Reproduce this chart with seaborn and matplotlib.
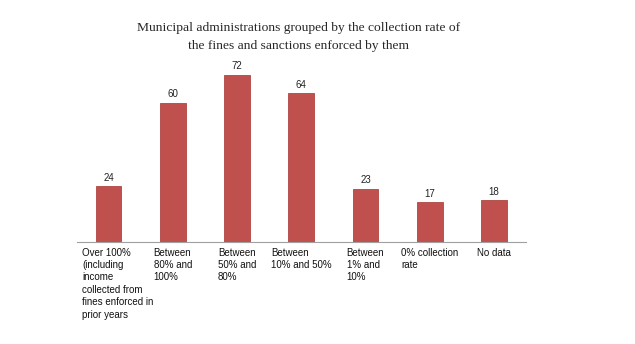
import matplotlib
matplotlib.use("Agg")
import matplotlib.pyplot as plt
import seaborn as sns
import pandas as pd
import matplotlib.transforms as mtransforms

categories = [
    "Over 100%\n(including\nincome\ncollected from\nfines enforced in\nprior years",
    "Between\n80% and\n100%",
    "Between\n50% and\n80%",
    "Between\n10% and 50%",
    "Between\n1% and\n10%",
    "0% collection\nrate",
    "No data",
]
values = [24, 60, 72, 64, 23, 17, 18]
title = "Municipal administrations grouped by the collection rate of\nthe fines and sanctions enforced by them"

sns.set_style("white")
plt.rcParams["font.family"] = ["Liberation Sans", "DejaVu Sans"]

df = pd.DataFrame({"cat": [str(i) for i in range(len(values))], "val": values})

base_y = 242
top_y = 56
fig = plt.figure(figsize=(6.35, 3.44), dpi=100)
ax = fig.add_axes([76.5 / 635, (344 - base_y) / 344, (526 - 76.5) / 635, (base_y - top_y) / 344])
sns.barplot(data=df, x="cat", y="val", ax=ax, color="#C0504D", width=0.4,
            saturation=1, edgecolor="#B04643", linewidth=0.6)
ax.set_ylim(0, 80)
ax.set_xlim(-0.5, len(values) - 0.5)
ax.set_xlabel("")
ax.set_ylabel("")
ax.set_yticks([])
for s in ["top", "right", "left"]:
    ax.spines[s].set_visible(False)
ax.spines["bottom"].set_color("#A0A0A0")
ax.spines["bottom"].set_linewidth(0.8)
ax.set_xticks([i - 0.5 for i in range(len(values) + 1)])
ax.set_xticklabels([])
ax.tick_params(axis="x", length=3, color="#A0A0A0", width=0.8, direction="out")

for i, v in enumerate(values):
    ax.text(i, v + 1.5, str(v), ha="center", va="bottom", fontsize=7, color="#222222")

trans = mtransforms.blended_transform_factory(ax.transData, ax.transAxes)
for i, lab in enumerate(categories):
    if i == 0:
        ax.text(-0.5 + 0.09, -0.03, lab, transform=trans, ha="left", va="top",
                fontsize=7, linespacing=1.3, multialignment="left", color="#111111")
    else:
        ax.text(i, -0.03, lab, transform=trans, ha="center", va="top",
                fontsize=7, linespacing=1.3, multialignment="left", color="#111111")

fig.text(299 / 635, 1 - 22 / 344, title, ha="center", va="top",
         fontsize=9.7, family=["Liberation Serif", "DejaVu Serif"], linespacing=1.7)

fig.savefig("out.png", dpi=100)
